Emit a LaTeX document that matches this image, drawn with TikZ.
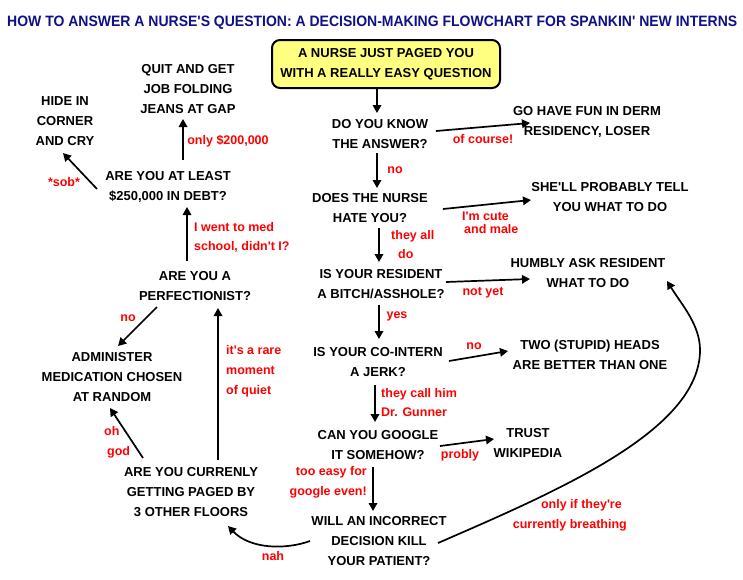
\documentclass[tikz,border=0pt]{standalone}
\usepackage{fontspec}
\setmainfont{Liberation Sans}[Ligatures=TeXOff]
\usetikzlibrary{arrows.meta}
\definecolor{navy}{RGB}{16,16,136}
\definecolor{lbred}{RGB}{255,0,0}
\definecolor{boxyellow}{RGB}{255,255,128}
\begin{document}
\begin{tikzpicture}[x=1pt,y=-1pt,
  q/.style={font=\bfseries\fontsize{13}{20}\selectfont, align=center, inner sep=2pt},
  lbl/.style={font=\bfseries\fontsize{12.5}{19}\selectfont, text=lbred, inner sep=0pt},
  arr/.style={line width=1.7pt, -{Triangle[length=8pt,width=8.5pt]}},
]
\useasboundingbox (0,0) rectangle (743,579);

\node[text=navy, inner sep=0pt, anchor=base west, font=\bfseries] (title) at (7,26)
  {\resizebox{730pt}{10.5pt}{HOW TO ANSWER A NURSE'S QUESTION: A DECISION-MAKING FLOWCHART FOR SPANKIN' NEW INTERNS}};

\node[q, draw, line width=2pt, fill=boxyellow, rounded corners=8pt,
      minimum width=228pt, minimum height=48pt] (start) at (386,64)
  {A NURSE JUST PAGED YOU\\WITH A REALLY EASY QUESTION};

\node[q] (know) at (380,134.5) {DO YOU KNOW\\THE ANSWER?};
\node[q] (derm) at (587,122) {GO HAVE FUN IN DERM\\RESIDENCY, LOSER};
\node[q] (hate) at (370,208) {DOES THE NURSE\\HATE YOU?};
\node[q] (tell) at (610,197.5) {SHE'LL PROBABLY TELL\\YOU WHAT TO DO};
\node[q] (resident) at (381,284) {IS YOUR RESIDENT\\A BITCH/ASSHOLE?};
\node[q] (humbly) at (588,273) {HUMBLY ASK RESIDENT\\WHAT TO DO};
\node[q] (cointern) at (378,362.5) {IS YOUR CO-INTERN\\A JERK?};
\node[q] (twoheads) at (590,354.5) {TWO (STUPID) HEADS\\ARE BETTER THAN ONE};
\node[q] (google) at (378,445) {CAN YOU GOOGLE\\IT SOMEHOW?};
\node[q] (wiki) at (528,443) {TRUST\\WIKIPEDIA};
\node[q] (kill) at (379,541) {WILL AN INCORRECT\\DECISION KILL\\YOUR PATIENT?};
\node[q] (paged) at (191,492) {ARE YOU CURRENLY\\GETTING PAGED BY\\3 OTHER FLOORS};
\node[q] (perfect) at (195,286) {ARE YOU A\\PERFECTIONIST?};
\node[q] (admin) at (112,377) {ADMINISTER\\MEDICATION CHOSEN\\AT RANDOM};
\node[q] (debt) at (168,186.5) {ARE YOU AT LEAST\\\$250,000 IN DEBT?};
\node[q] (quit) at (188,89) {QUIT AND GET\\JOB FOLDING\\JEANS AT GAP};
\node[q] (hide) at (65,121) {HIDE IN\\CORNER\\AND CRY};

% connectors
\draw[arr] ([shift={(-9,25)}]start.center) -- ([shift={(-3,-21.5)}]know.center);
\draw[arr] ([shift={(56,-3.5)}]know.center) -- ([shift={(-57,1)}]derm.center);
\draw[arr] ([shift={(-3,18.5)}]know.center) -- ([shift={(7,-20)}]hate.center);
\draw[arr] ([shift={(73,1)}]hate.center) -- ([shift={(-79,2.5)}]tell.center);
\draw[arr] ([shift={(9,20)}]hate.center) -- ([shift={(-2,-22)}]resident.center);
\draw[arr] ([shift={(65,-2)}]resident.center) -- ([shift={(-58,6)}]humbly.center);
\draw[arr] ([shift={(-2,21)}]resident.center) -- ([shift={(1,-23.5)}]cointern.center);
\draw[arr] ([shift={(71,-1.5)}]cointern.center) -- ([shift={(-82,-3.5)}]twoheads.center);
\draw[arr] ([shift={(-3,22.5)}]cointern.center) -- ([shift={(-3,-23)}]google.center);
\draw[arr] ([shift={(62,1)}]google.center) -- ([shift={(-34,-4)}]wiki.center);
\draw[arr] ([shift={(-5,22)}]google.center) -- ([shift={(-6,-30)}]kill.center);
\draw[arr] ([shift={(59,2)}]kill.center) .. controls (560,490) and (700,430) .. (700,350)
  .. controls (700,325) and (682,305) .. ([shift={(79,8)}]humbly.center);
\draw[arr] ([shift={(-69,0)}]kill.center) .. controls (285,550) and (250,549) .. ([shift={(37,34)}]paged.center);
\draw[arr] ([shift={(-48,-34)}]paged.center) -- ([shift={(-2,31)}]admin.center);
\draw[arr] ([shift={(27,-32)}]paged.center) -- ([shift={(23,22)}]perfect.center);
\draw[arr] ([shift={(-38,21)}]perfect.center) -- ([shift={(6,-31)}]admin.center);
\draw[arr] ([shift={(-8,-25)}]perfect.center) -- ([shift={(19,20.5)}]debt.center);
\draw[arr] ([shift={(15,-26.5)}]debt.center) -- ([shift={(-5,30)}]quit.center);
\draw[arr] ([shift={(-71,2.5)}]debt.center) -- ([shift={(-2,32)}]hide.center);

% labels
\node[lbl] (l1) at (483,139) {of course!};
\node[lbl] (l2) at (395,170) {no};
\node[lbl, align=left, anchor=west, font=\bfseries\fontsize{12.5}{12.5}\selectfont] (l3) at (462,223) {I'm cute\\\hspace*{2pt}and male};
\node[lbl, align=left, anchor=west] (l4) at (391,245) {they all\\\hspace*{7pt}do};
\node[lbl] (l5) at (483,293) {not yet};
\node[lbl] (l6) at (397,316) {yes};
\node[lbl] (l7) at (474,346) {no};
\node[lbl, align=left, anchor=west] (l8) at (381,402.5) {they call him\\Dr. Gunner};
\node[lbl] (l9) at (460,455) {probly};
\node[lbl, align=right, anchor=east, font=\bfseries\fontsize{12.5}{20}\selectfont] (l10) at (367,482) {too easy for\\google even!};
\node[lbl, align=right, anchor=east, font=\bfseries\fontsize{12.5}{20}\selectfont] (l11) at (627,515) {only if they're\hspace*{5pt}\\currently breathing};
\node[lbl] (l12) at (273,556) {nah};
\node[lbl, align=left, anchor=west, font=\bfseries\fontsize{12.5}{20}\selectfont] (l13) at (104,442) {oh\\\hspace*{3pt}god};
\node[lbl, align=left, anchor=west, font=\bfseries\fontsize{12.5}{20}\selectfont] (l14) at (226,371) {it's a rare\\moment\\of quiet};
\node[lbl] (l15) at (128,318) {no};
\node[lbl, align=left, anchor=west] (l16) at (194,237.5) {I went to med\\school, didn't I?};
\node[lbl] (l17) at (228,141) {only \$200,000};
\node[lbl] (l18) at (64,182) {*sob*};
\end{tikzpicture}
\end{document}
